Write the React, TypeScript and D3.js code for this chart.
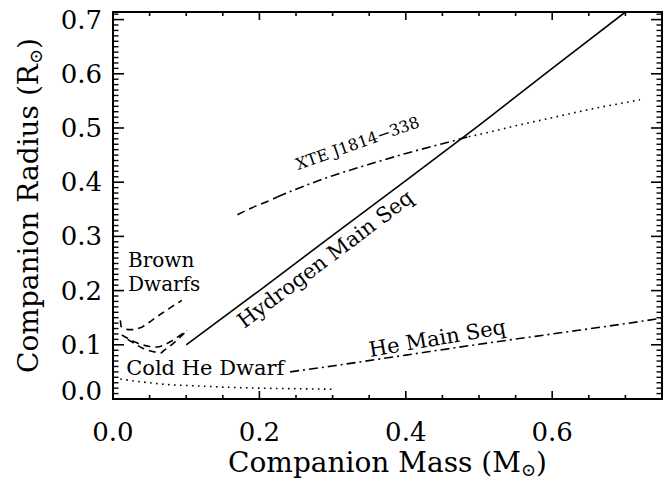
import React from "react";
import * as d3 from "d3";

// ---- data ----
const xTicksMajor = [0.0, 0.2, 0.4, 0.6];
const yTicksMajor = [0.0, 0.1, 0.2, 0.3, 0.4, 0.5, 0.6, 0.7];
const xTickLabels = ["0.0", "0.2", "0.4", "0.6"];
const yTickLabels = ["0.0", "0.1", "0.2", "0.3", "0.4", "0.5", "0.6", "0.7"];

// Hydrogen main sequence (solid)
const hmsMass = [0.1, 0.2, 0.3, 0.4, 0.5, 0.6, 0.7];
const hmsRadius = [0.1, 0.2, 0.302, 0.403, 0.505, 0.61, 0.714];

// XTE J1814-338 Roche-lobe curve: dashed / dash-dot / dotted parts
const xteDashMass = [0.17, 0.19, 0.21, 0.225];
const xteDashRadius = [0.34, 0.353, 0.364, 0.373];
const xteDashDotMass = [0.225, 0.25, 0.3, 0.35, 0.4, 0.45, 0.486];
const xteDashDotRadius = [0.373, 0.387, 0.412, 0.433, 0.453, 0.471, 0.484];
const xteDotMass = [0.486, 0.5, 0.55, 0.6, 0.65, 0.7, 0.72];
const xteDotRadius = [0.484, 0.488, 0.504, 0.519, 0.534, 0.547, 0.552];

// He main sequence (dash-dot)
const heMsMass = [0.242, 0.3, 0.4, 0.5, 0.6, 0.7, 0.75];
const heMsRadius = [0.05, 0.061, 0.081, 0.101, 0.12, 0.139, 0.149];

// Cold He dwarf (dotted)
const coldHeMass = [0.01, 0.03, 0.05, 0.08, 0.1, 0.15, 0.2, 0.25, 0.3];
const coldHeRadius = [0.037, 0.033, 0.03, 0.026, 0.025, 0.022, 0.02, 0.019, 0.018];

// Brown dwarf curves (dashed)
const bd1Mass = [0.01, 0.011, 0.02, 0.03, 0.04, 0.05, 0.06, 0.07, 0.08, 0.094];
const bd1Radius = [0.145, 0.134, 0.128, 0.128, 0.133, 0.142, 0.152, 0.161, 0.17, 0.182];
const bd2Mass = [0.012, 0.02, 0.03, 0.04, 0.05, 0.06, 0.07, 0.08, 0.09, 0.101];
const bd2Radius = [0.118, 0.112, 0.105, 0.1, 0.097, 0.096, 0.1, 0.107, 0.116, 0.127];
const bd3Mass = [0.02, 0.03, 0.04, 0.05, 0.06, 0.065, 0.07, 0.08, 0.09, 0.098];
const bd3Radius = [0.11, 0.102, 0.094, 0.089, 0.086, 0.085, 0.09, 0.1, 0.112, 0.122];

const W = 671;
const H = 481;
const FONT = "'DejaVu Serif', serif";

function zip(m: number[], r: number[]): [number, number][] {
  return m.map((v, i) => [v, r[i]]);
}

export default function App() {
  const x = d3.scaleLinear().domain([0, 0.75]).range([113, 662]);
  const y = d3.scaleLinear().domain([0, 0.714]).range([399, 12]);
  const line = d3
    .line<[number, number]>()
    .x((d) => x(d[0]))
    .y((d) => y(d[1]))
    .curve(d3.curveMonotoneX);
  const straight = d3
    .line<[number, number]>()
    .x((d) => x(d[0]))
    .y((d) => y(d[1]));

  const [x0, x1] = x.range();
  const [y0, y1] = y.range();

  const xMinor = d3.range(0, 0.7501, 0.05).filter((v) => Math.abs(v / 0.2 - Math.round(v / 0.2)) > 1e-6);
  const yMinor = d3.range(0, 0.7141, 0.01).filter((v) => Math.abs(v / 0.1 - Math.round(v / 0.1)) > 1e-6);

  const MAJ_X = 8, MIN_X = 4, MAJ_Y = 11, MIN_Y = 5.5;
  const curveStyle = { fill: "none", stroke: "#000", strokeWidth: 1.6 };

  const hydroAngle = -37;
  const xteAngle = -19.5;
  const heAngle = -9.8;

  return (
    <svg width={W} height={H} style={{ position: "absolute", left: 0, top: 0, background: "#fff" }}>
      <defs>
        <clipPath id="plotclip">
          <rect x={x0} y={y1} width={x1 - x0} height={y0 - y1} />
        </clipPath>
      </defs>
      <rect x={0} y={0} width={W} height={H} fill="#fff" />

      {/* curves */}
      <g clipPath="url(#plotclip)">
        <path d={straight(zip(hmsMass, hmsRadius)) || ""} {...curveStyle} />
        <path d={line(zip(xteDashMass, xteDashRadius)) || ""} {...curveStyle} strokeDasharray="8,5" />
        <path d={line(zip(xteDashDotMass, xteDashDotRadius)) || ""} {...curveStyle} strokeDasharray="9,4,2,4" />
        <path d={line(zip(xteDotMass, xteDotRadius)) || ""} {...curveStyle} strokeDasharray="1.6,4.4" />
        <path d={line(zip(heMsMass, heMsRadius)) || ""} {...curveStyle} strokeDasharray="9,4,2,4" />
        <path d={line(zip(coldHeMass, coldHeRadius)) || ""} {...curveStyle} strokeDasharray="1.6,4.4" />
        <path d={straight(zip(bd1Mass, bd1Radius)) || ""} {...curveStyle} strokeDasharray="7,5" />
        <path d={line(zip(bd2Mass, bd2Radius)) || ""} {...curveStyle} strokeDasharray="7,5" />
        <path d={line(zip(bd3Mass, bd3Radius)) || ""} {...curveStyle} strokeDasharray="7,5" />
      </g>

      {/* axes box */}
      <rect x={x0} y={y1} width={x1 - x0} height={y0 - y1} fill="none" stroke="#000" strokeWidth={2} />

      {/* x ticks bottom and top */}
      {xTicksMajor.map((t) => (
        <g key={"xM" + t}>
          <line x1={x(t)} x2={x(t)} y1={y0} y2={y0 - MAJ_X} stroke="#000" strokeWidth={1.6} />
          <line x1={x(t)} x2={x(t)} y1={y1} y2={y1 + MAJ_X} stroke="#000" strokeWidth={1.6} />
        </g>
      ))}
      {xMinor.map((t) => (
        <g key={"xm" + t}>
          <line x1={x(t)} x2={x(t)} y1={y0} y2={y0 - MIN_X} stroke="#000" strokeWidth={1.6} />
          <line x1={x(t)} x2={x(t)} y1={y1} y2={y1 + MIN_X} stroke="#000" strokeWidth={1.6} />
        </g>
      ))}
      {/* y ticks left and right */}
      {yTicksMajor.map((t) => (
        <g key={"yM" + t}>
          <line x1={x0} x2={x0 + MAJ_Y} y1={y(t)} y2={y(t)} stroke="#000" strokeWidth={1.6} />
          <line x1={x1} x2={x1 - MAJ_Y} y1={y(t)} y2={y(t)} stroke="#000" strokeWidth={1.6} />
        </g>
      ))}
      {yMinor.map((t) => (
        <g key={"ym" + t}>
          <line x1={x0} x2={x0 + MIN_Y} y1={y(t)} y2={y(t)} stroke="#000" strokeWidth={1.4} />
          <line x1={x1} x2={x1 - MIN_Y} y1={y(t)} y2={y(t)} stroke="#000" strokeWidth={1.4} />
        </g>
      ))}

      {/* tick labels */}
      {xTicksMajor.map((t, i) => (
        <text key={"xl" + t} x={x(t)} y={441} textAnchor="middle" fontFamily={FONT} fontSize={26}>
          {xTickLabels[i]}
        </text>
      ))}
      {yTicksMajor.map((t, i) => (
        <text
          key={"yl" + t}
          x={102}
          y={y(t) - (t === 0 ? 8 : 0)}
          textAnchor="end"
          dominantBaseline="central"
          fontFamily={FONT}
          fontSize={26}
        >
          {yTickLabels[i]}
        </text>
      ))}

      {/* axis titles */}
      <text x={(x0 + x1) / 2} y={472} textAnchor="middle" fontFamily={FONT} fontSize={28}>
        Companion Mass (M
        <tspan fontSize={18} dy={4}>⊙</tspan>
        <tspan dy={-4}>)</tspan>
      </text>
      <text
        transform={`translate(38, ${(y0 + y1) / 2}) rotate(-90)`}
        textAnchor="middle"
        fontFamily={FONT}
        fontSize={28}
      >
        Companion Radius (R
        <tspan fontSize={18} dy={4}>⊙</tspan>
        <tspan dy={-4}>)</tspan>
      </text>

      {/* annotations */}
      <text x={x(0.0205)} y={y(0.243)} fontFamily={FONT} fontSize={20}>Brown</text>
      <text x={x(0.0205)} y={y(0.2)} fontFamily={FONT} fontSize={20}>Dwarfs</text>
      <text x={x(0.018)} y={y(0.044)} fontFamily={FONT} fontSize={21}>Cold He Dwarf</text>
      <text
        transform={`translate(${x(0.443)}, ${y(0.112)}) rotate(${heAngle})`}
        textAnchor="middle"
        dominantBaseline="central"
        fontFamily={FONT}
        fontSize={21}
      >
        He Main Seq
      </text>
      <text
        transform={`translate(${x(0.29)}, ${y(0.258)}) rotate(${hydroAngle})`}
        textAnchor="middle"
        dominantBaseline="central"
        fontFamily={FONT}
        fontSize={21}
      >
        Hydrogen Main Seq
      </text>
      <text
        transform={`translate(${x(0.334)}, ${y(0.472)}) rotate(${xteAngle})`}
        textAnchor="middle"
        dominantBaseline="central"
        fontFamily={FONT}
        fontSize={16}
      >
        XTE J1814−338
      </text>
    </svg>
  );
}
